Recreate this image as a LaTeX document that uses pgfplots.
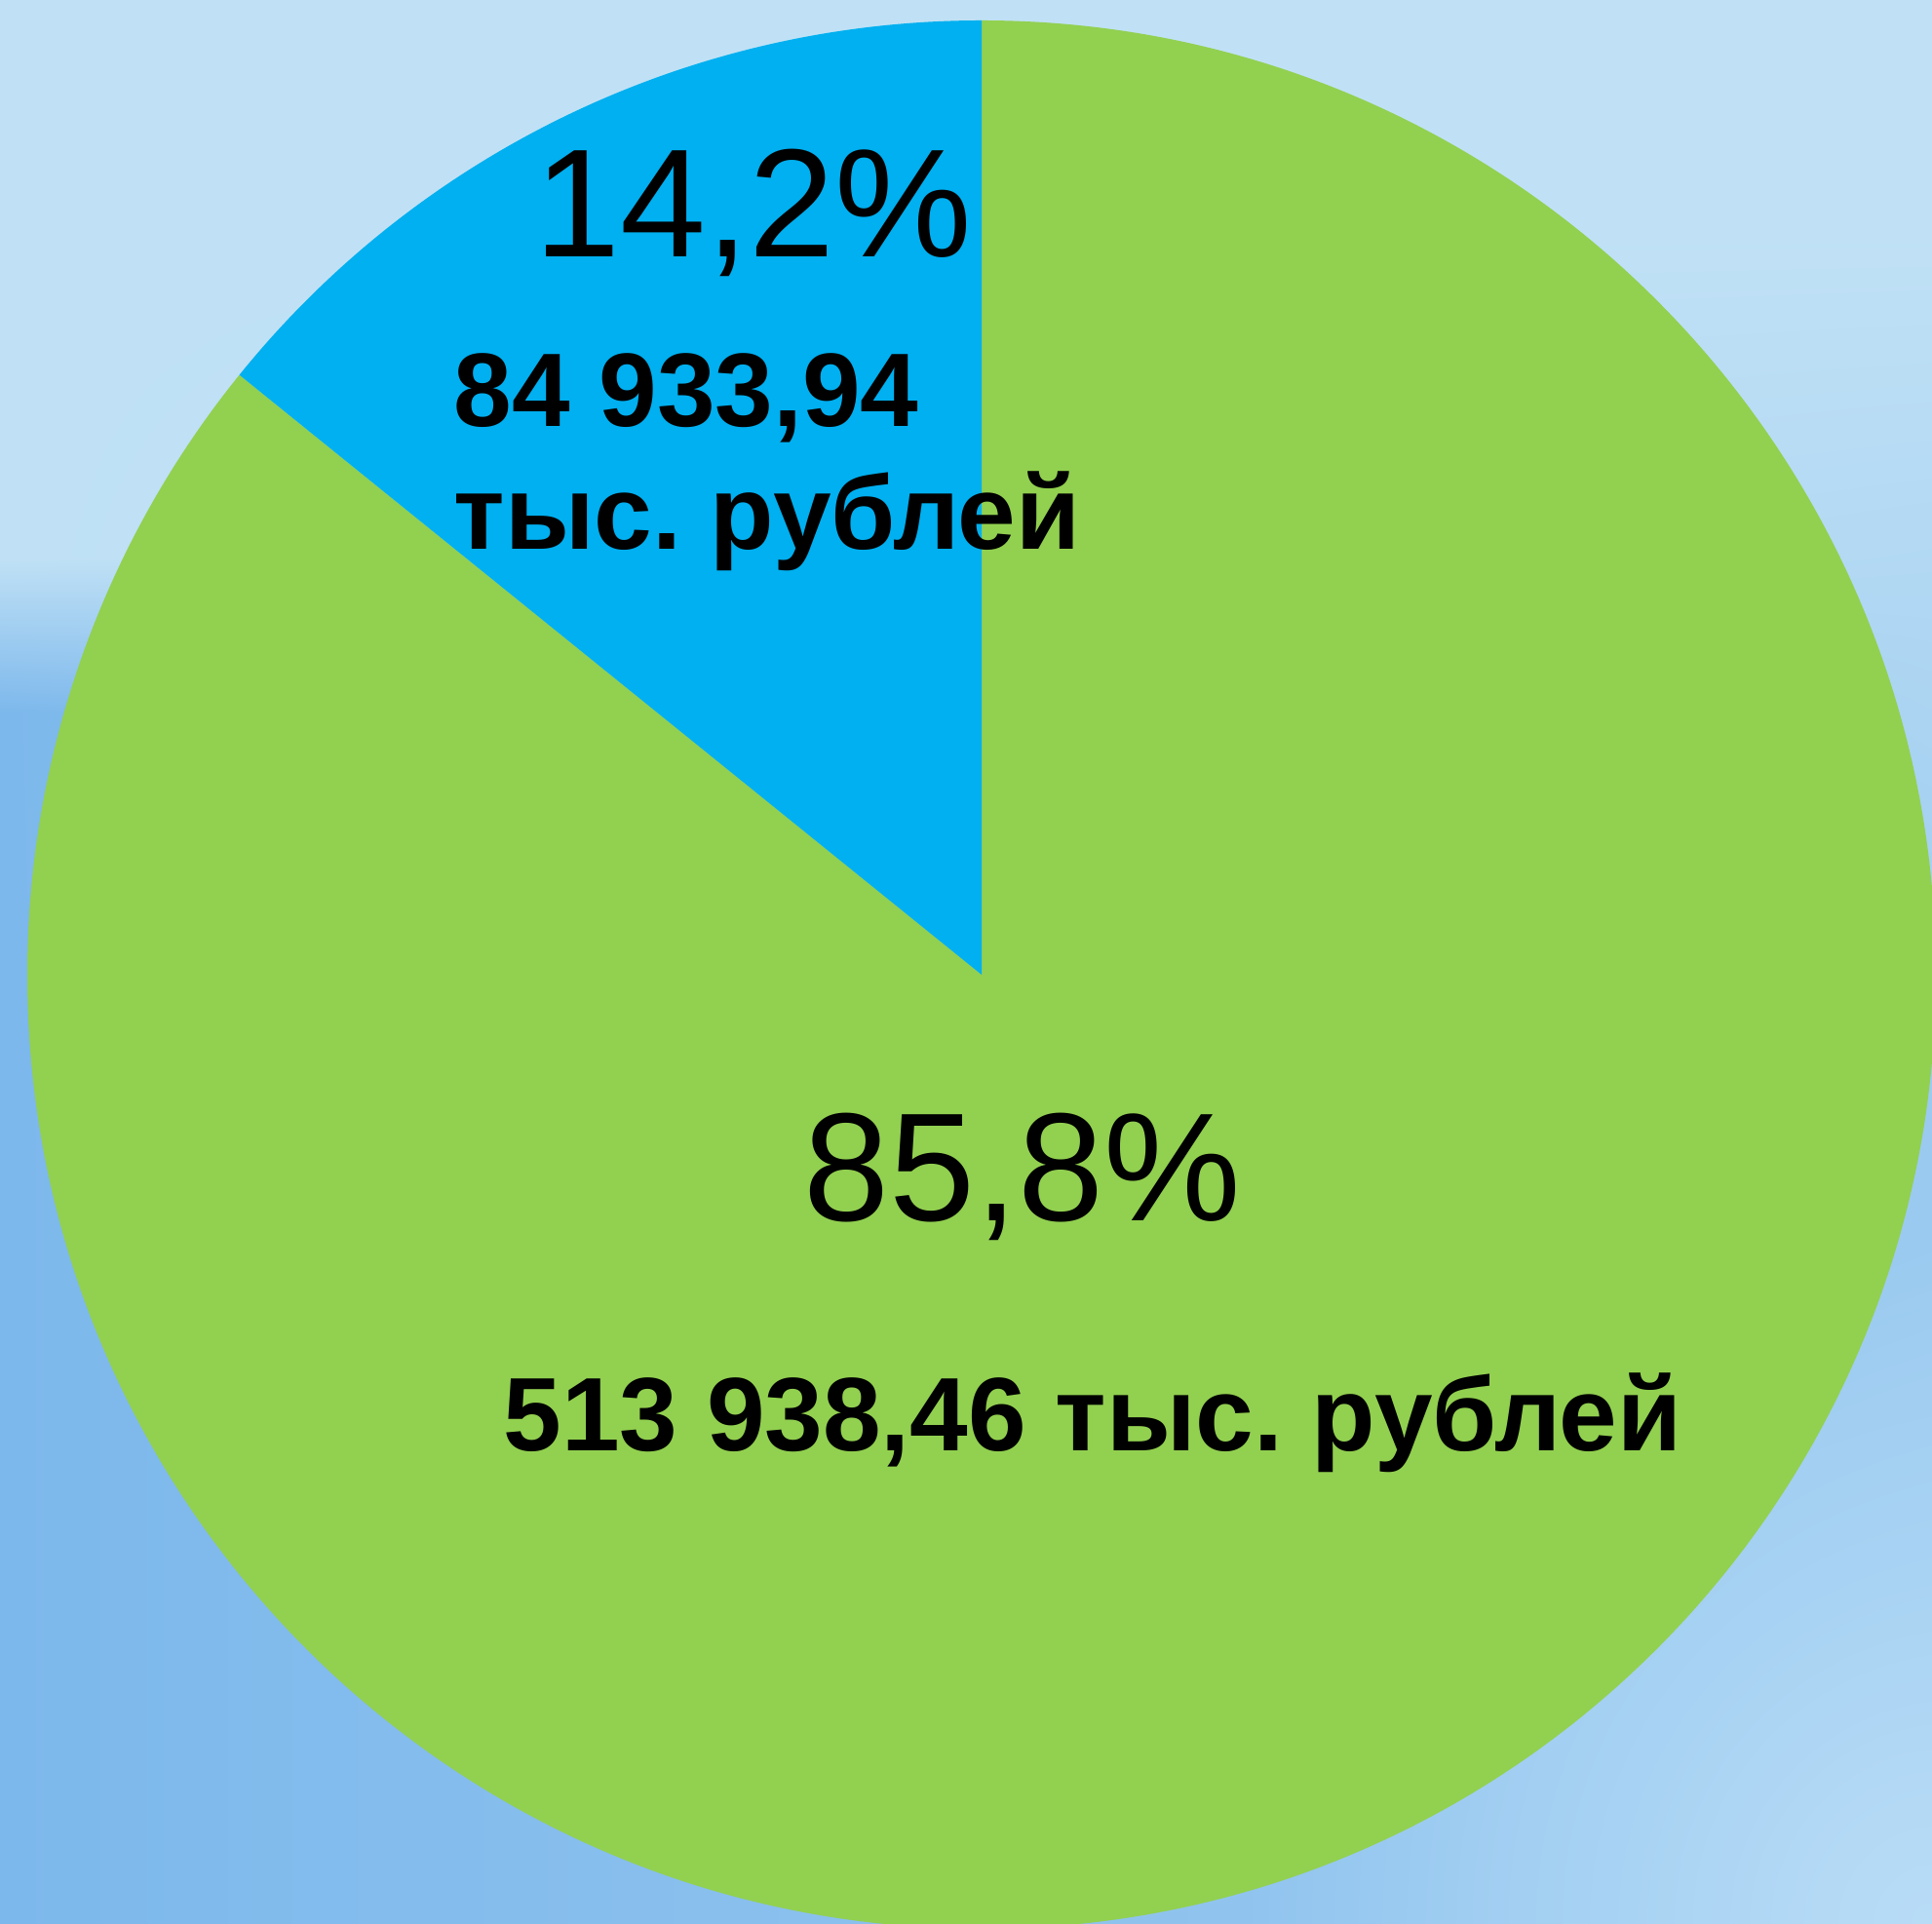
\documentclass[border=0pt]{standalone}
\usepackage{pgfplots}
\pgfplotsset{compat=1.18}
\usepackage{fontspec}
\setmainfont{Liberation Sans}
\frenchspacing

\definecolor{sliceblue}{HTML}{00B0F0}
\definecolor{slicegreen}{HTML}{92D050}

% background: light at the top, dark lower left, paler on the right
% (the path covers the central -25bp..25bp part of the shading)
\pgfdeclarefunctionalshading{bgshade}{\pgfpoint{-50bp}{-50bp}}{\pgfpoint{50bp}{50bp}}{}{
  25 add 50 div exch 25 add 50 div exch
  dup 0.71 exch sub 0.08 div
  dup 0 lt {pop 0} if dup 1 gt {pop 1} if
  1 index 0.88 exch sub 0.45 div
  dup 0 lt {pop 0} if dup 1 gt {pop 1} if 0.55 mul
  1 index sub 3 index mul add
  2 index 1 sub 0.35 div dup mul
  2 index 0.35 div dup mul add sqrt
  1 exch sub dup 0 lt {pop 0} if
  4 2 roll pop pop
  1 index -0.263 mul 0.753 add
  dup 0.722 exch sub 2 index mul add
  2 index -0.160 mul 0.882 add
  dup 0.863 exch sub 3 index mul add
  3 index -0.036 mul 0.961 add
  dup 0.965 exch sub 4 index mul add
  5 3 roll pop pop
}

% values, thousand rubles
\def\valA{84933.94}
\def\valB{513938.46}
\edef\angA{\fpeval{360*\valA/(\valA+\valB)}}
\def\R{9.79}

\begin{document}
\begin{tikzpicture}
\begin{axis}[
    x=1cm, y=1cm,
    xmin=-10.07, xmax=9.75,
    ymin=-9.74, ymax=10.00,
    hide axis,
    clip=true,
    axis background/.style={shading=bgshade},
]
  % 85,8 % slice
  \fill[slicegreen] (axis cs:0,0) -- (axis cs:0,\R)
     arc[start angle=90, end angle={90+\angA-360}, radius=\R] -- cycle;
  % 14,2 % slice
  \fill[sliceblue] (axis cs:0,0) -- (axis cs:0,\R)
     arc[start angle=90, end angle={90+\angA}, radius=\R] -- cycle;

  \node[anchor=base, font=\fontsize{45}{54}\selectfont]
     at (axis cs:-2.34,7.36) {14,2\%};
  \node[anchor=base west, font=\fontsize{30.5}{36}\bfseries, inner sep=0pt]
     at (axis cs:-5.42,5.62) {84 933,94};
  \node[anchor=base west, font=\fontsize{30.5}{36}\bfseries, inner sep=0pt]
     at (axis cs:-5.42,4.36) {тыс. рублей};

  \node[anchor=base, font=\fontsize{45}{54}\selectfont]
     at (axis cs:0.42,-2.53) {85,8\%};
  \node[anchor=base, font=\fontsize{30.5}{36}\bfseries, inner sep=0pt]
     at (axis cs:1.14,-4.89) {513 938,46 тыс. рублей};
\end{axis}
\end{tikzpicture}
\end{document}
